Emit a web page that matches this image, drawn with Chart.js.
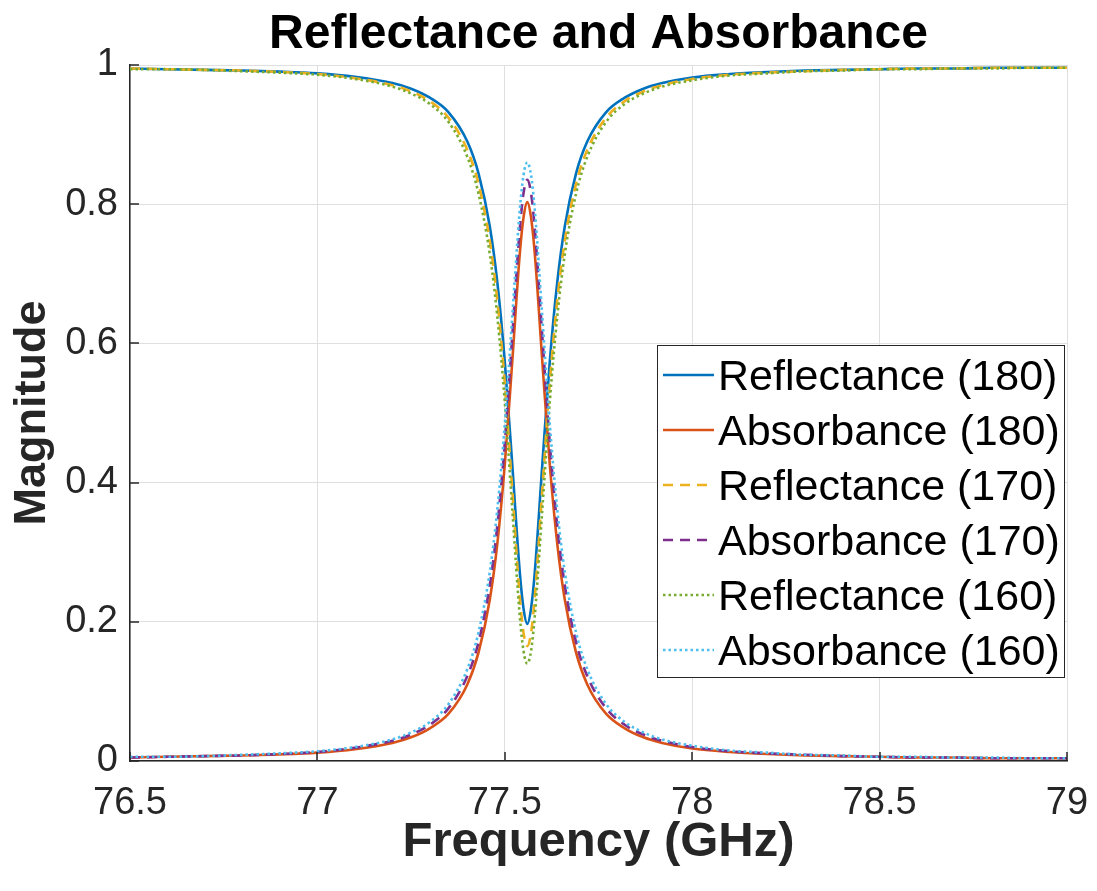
<!DOCTYPE html>
<html>
<head>
<meta charset="utf-8">
<title>Reflectance and Absorbance</title>
<script src="https://cdn.jsdelivr.net/npm/chart.js@4.4.1/dist/chart.umd.min.js"></script>
<style>
  html, body { margin: 0; padding: 0; background: #fff; }
</style>
</head>
<body>
<canvas id="myChart" width="1097" height="891"></canvas>
<script>
// Frequency points (GHz), denser around the resonance
const freq = [
  76.5, 76.6, 76.7, 76.8, 76.9, 77.0, 77.1, 77.2, 77.25, 77.3,
  77.35, 77.4, 77.43, 77.46, 77.48, 77.5, 77.52, 77.54, 77.55, 77.56,
  77.57, 77.58, 77.6, 77.62, 77.64, 77.66, 77.69, 77.72, 77.77, 77.82,
  77.87, 77.92, 78.0, 78.1, 78.2, 78.3, 78.4, 78.5, 78.6, 78.7,
  78.8, 78.9, 79.0,
];

const refl180 = [
  0.995, 0.994, 0.993, 0.992, 0.9905, 0.988, 0.983, 0.974, 0.966, 0.953,
  0.932, 0.89, 0.844, 0.768, 0.688, 0.574, 0.425, 0.271, 0.219, 0.197,
  0.219, 0.271, 0.425, 0.574, 0.688, 0.768, 0.844, 0.89, 0.932, 0.953,
  0.966, 0.974, 0.982, 0.987, 0.99, 0.992, 0.993, 0.994, 0.995, 0.995,
  0.996, 0.996, 0.996,
];
const abs180 = [
  0.005, 0.006, 0.007, 0.008, 0.0095, 0.012, 0.017, 0.026, 0.034, 0.047,
  0.068, 0.11, 0.156, 0.232, 0.312, 0.426, 0.575, 0.729, 0.781, 0.803,
  0.781, 0.729, 0.575, 0.426, 0.312, 0.232, 0.156, 0.11, 0.068, 0.047,
  0.034, 0.026, 0.018, 0.013, 0.01, 0.008, 0.007, 0.006, 0.005, 0.005,
  0.004, 0.004, 0.004,
];
const refl170 = [
  0.995, 0.994, 0.993, 0.992, 0.99, 0.987, 0.981, 0.971, 0.962, 0.948,
  0.924, 0.878, 0.829, 0.747, 0.662, 0.543, 0.389, 0.235, 0.184, 0.165,
  0.184, 0.235, 0.389, 0.543, 0.662, 0.747, 0.829, 0.878, 0.924, 0.948,
  0.962, 0.971, 0.98, 0.986, 0.989, 0.991, 0.993, 0.994, 0.995, 0.995,
  0.996, 0.996, 0.996,
];
const abs170 = [
  0.005, 0.006, 0.007, 0.008, 0.01, 0.013, 0.019, 0.029, 0.038, 0.052,
  0.076, 0.122, 0.171, 0.253, 0.338, 0.457, 0.611, 0.765, 0.816, 0.835,
  0.816, 0.765, 0.611, 0.457, 0.338, 0.253, 0.171, 0.122, 0.076, 0.052,
  0.038, 0.029, 0.02, 0.014, 0.011, 0.009, 0.007, 0.006, 0.005, 0.005,
  0.004, 0.004, 0.004,
];
const refl160 = [
  0.994, 0.994, 0.993, 0.991, 0.989, 0.986, 0.98, 0.969, 0.959, 0.944,
  0.918, 0.868, 0.815, 0.728, 0.639, 0.516, 0.361, 0.208, 0.158, 0.14,
  0.158, 0.208, 0.361, 0.516, 0.639, 0.728, 0.815, 0.868, 0.918, 0.944,
  0.959, 0.969, 0.978, 0.985, 0.988, 0.991, 0.992, 0.994, 0.994, 0.995,
  0.995, 0.996, 0.996,
];
const abs160 = [
  0.006, 0.006, 0.007, 0.009, 0.011, 0.014, 0.02, 0.031, 0.041, 0.056,
  0.082, 0.132, 0.185, 0.272, 0.361, 0.484, 0.639, 0.792, 0.842, 0.86,
  0.842, 0.792, 0.639, 0.484, 0.361, 0.272, 0.185, 0.132, 0.082, 0.056,
  0.041, 0.031, 0.022, 0.015, 0.012, 0.009, 0.008, 0.006, 0.006, 0.005,
  0.005, 0.004, 0.004,
];

const seriesNames = [
  "Reflectance (180)",
  "Absorbance (180)",
  "Reflectance (170)",
  "Absorbance (170)",
  "Reflectance (160)",
  "Absorbance (160)",
];
const xTicks = [76.5, 77, 77.5, 78, 78.5, 79];
const yTicks = [0, 0.2, 0.4, 0.6, 0.8, 1];

const titleText = "Reflectance and Absorbance";
const xLabel = "Frequency (GHz)";
const yLabel = "Magnitude";

const FONT = "'Liberation Sans', Arial, Helvetica, sans-serif";
const AXIS_COLOR = "#262626";
const GRID_COLOR = "#dfdfdf";

const seriesValues = [refl180, abs180, refl170, abs170, refl160, abs160];
const seriesColors = ["#0072BD", "#D95319", "#EDB120", "#7E2F8E", "#77AC30", "#4DBEEE"];
const seriesDash = [[], [], [10, 7], [10, 7], [2.5, 3], [2.5, 3]];

const datasets = seriesValues.map(function (vals, i) {
  return {
    label: seriesNames[i],
    data: freq.map((f, k) => ({ x: f, y: vals[k] })),
    borderColor: seriesColors[i],
    backgroundColor: seriesColors[i],
    borderWidth: 2.6,
    borderDash: seriesDash[i],
    pointRadius: 0,
    fill: false,
    cubicInterpolationMode: "monotone",
    order: seriesValues.length - i, // later series on top, like MATLAB
  };
});

// Title, inward tick marks and the boxed legend, drawn MATLAB style
const matlabExtras = {
  id: "matlabExtras",
  afterDraw(chart) {
    const ctx = chart.ctx;
    const area = chart.chartArea;
    const xs = chart.scales.x;
    const ys = chart.scales.y;
    ctx.save();

    ctx.font = "bold 48px " + FONT;
    ctx.fillStyle = "#000";
    ctx.textAlign = "center";
    ctx.textBaseline = "alphabetic";
    ctx.fillText(titleText, (area.left + area.right) / 2, 48);

    ctx.strokeStyle = AXIS_COLOR;
    ctx.lineWidth = 1.5;
    ctx.setLineDash([]);
    xTicks.forEach(function (v) {
      const px = Math.round(xs.getPixelForValue(v));
      ctx.beginPath();
      ctx.moveTo(px, area.bottom);
      ctx.lineTo(px, area.bottom - 9);
      ctx.stroke();
    });
    yTicks.forEach(function (v) {
      const py = Math.round(ys.getPixelForValue(v));
      ctx.beginPath();
      ctx.moveTo(area.left, py);
      ctx.lineTo(area.left + 9, py);
      ctx.stroke();
    });

    // Legend box
    const lx = 657, ly = 345, lw = 407, lh = 332;
    ctx.fillStyle = "#fff";
    ctx.fillRect(lx, ly, lw, lh);
    ctx.strokeStyle = AXIS_COLOR;
    ctx.lineWidth = 1;
    ctx.strokeRect(lx + 0.5, ly + 0.5, lw, lh);

    ctx.font = "43px " + FONT;
    ctx.textAlign = "left";
    ctx.textBaseline = "middle";
    seriesNames.forEach(function (name, i) {
      const rowY = 375 + i * 55;
      ctx.strokeStyle = seriesColors[i];
      ctx.lineWidth = 2.5;
      ctx.setLineDash(seriesDash[i]);
      ctx.beginPath();
      ctx.moveTo(663, rowY);
      ctx.lineTo(714, rowY);
      ctx.stroke();
      ctx.setLineDash([]);
      ctx.fillStyle = "#000";
      ctx.fillText(name, 718, rowY + 3);
    });

    ctx.restore();
  },
};

const config = {
  type: "line",
  data: { datasets: datasets },
  options: {
    responsive: false,
    animation: false,
    layout: { padding: { left: 0, right: 30, top: 65, bottom: 0 } },
    plugins: {
      legend: { display: false },
      title: { display: false },
      tooltip: { enabled: false },
    },
    scales: {
      x: {
        type: "linear",
        min: 76.5,
        max: 79,
        afterBuildTicks: (scale) => {
          scale.ticks = xTicks.map((v) => ({ value: v }));
        },
        afterFit: (scale) => {
          scale.height = 130;
          scale.paddingLeft = 0;
          scale.paddingRight = 0;
        },
        grid: { color: GRID_COLOR, lineWidth: 1, drawTicks: false },
        border: { color: AXIS_COLOR, width: 1.5 },
        ticks: {
          padding: 20,
          color: AXIS_COLOR,
          font: { family: FONT, size: 38 },
          callback: (v) => String(v),
        },
        title: {
          display: true,
          text: xLabel,
          color: AXIS_COLOR,
          font: { family: FONT, size: 49, weight: "bold" },
          padding: { top: 0, bottom: 19 },
        },
      },
      y: {
        type: "linear",
        min: 0,
        max: 1,
        afterBuildTicks: (scale) => {
          scale.ticks = yTicks.map((v) => ({ value: v }));
        },
        afterFit: (scale) => {
          scale.width = 130;
          scale.paddingTop = 0;
          scale.paddingBottom = 0;
        },
        grid: { color: GRID_COLOR, lineWidth: 1, drawTicks: false },
        border: { color: AXIS_COLOR, width: 1.5 },
        ticks: {
          padding: 12,
          color: AXIS_COLOR,
          font: { family: FONT, size: 38 },
          callback: (v) => String(v),
        },
        title: {
          display: true,
          text: yLabel,
          color: AXIS_COLOR,
          font: { family: FONT, size: 45, weight: "bold" },
          padding: { top: 6, bottom: 0 },
        },
      },
    },
  },
  plugins: [matlabExtras],
};

const myChart = new Chart(document.getElementById("myChart"), config);
</script>
</body>
</html>
